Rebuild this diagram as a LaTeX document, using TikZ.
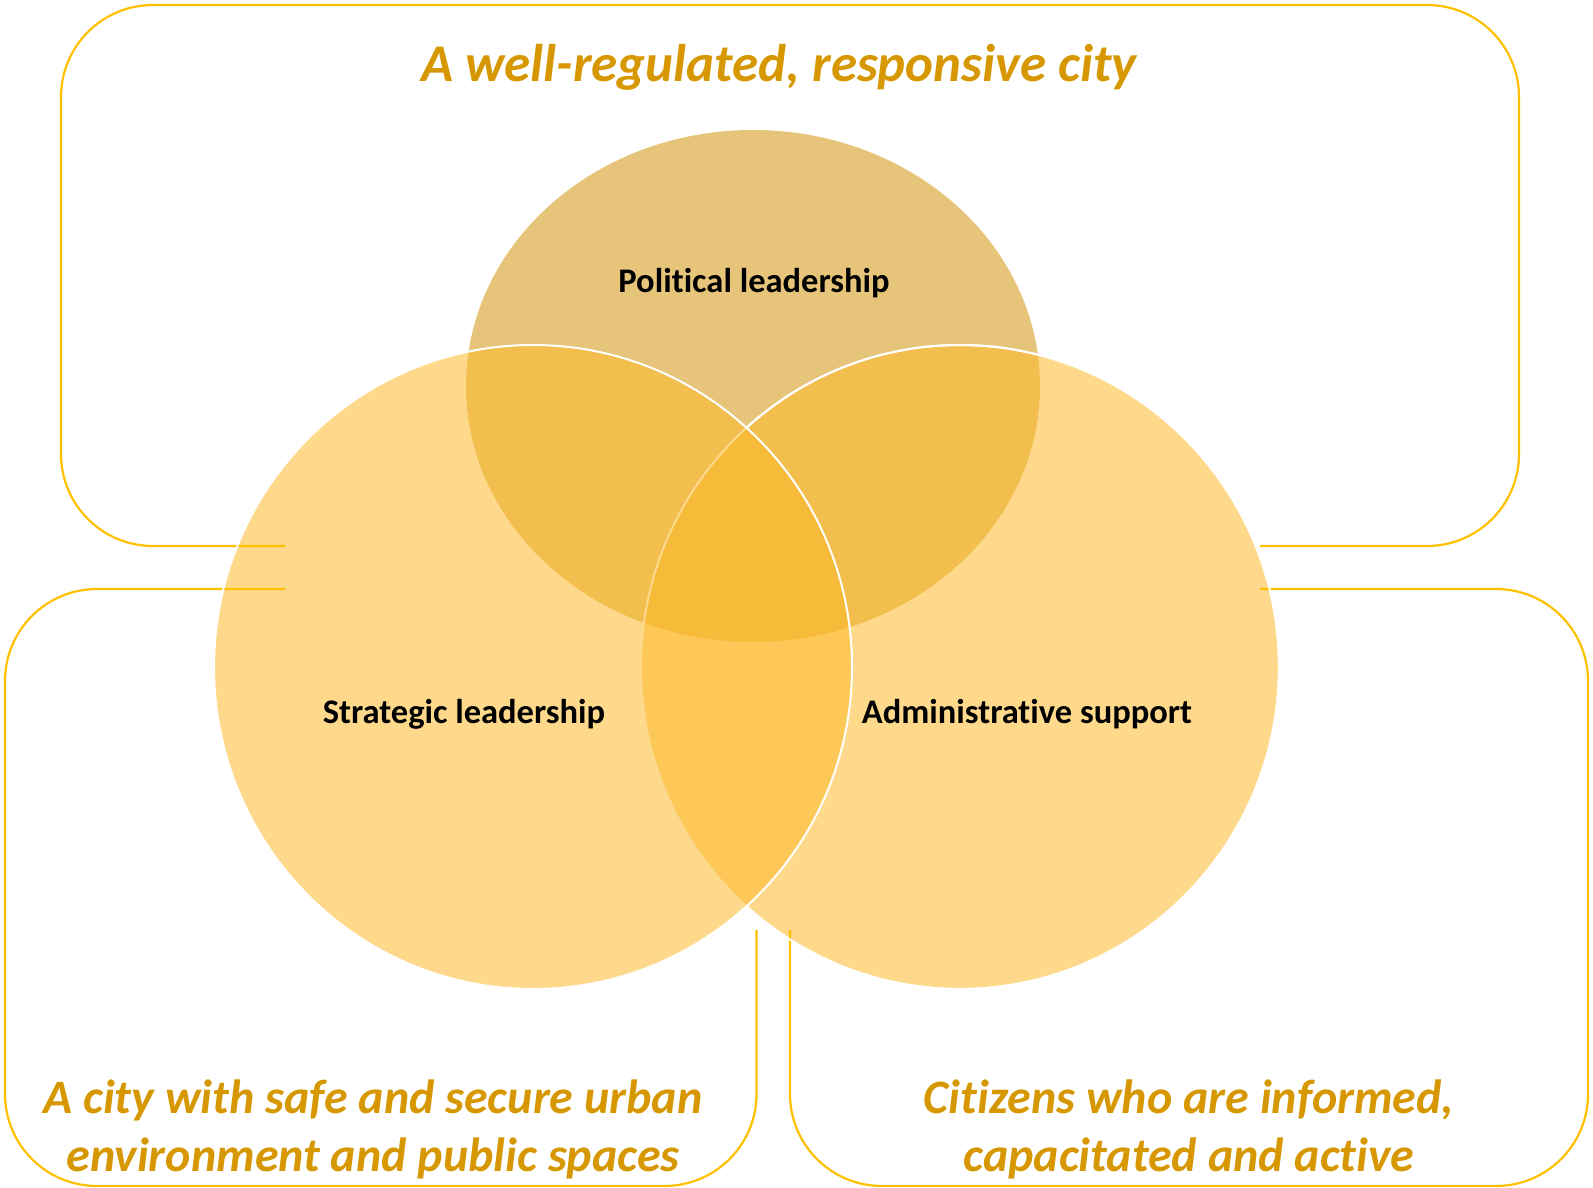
\documentclass[tikz,border=0pt]{standalone}
\usepackage{fontspec}
\setmainfont{Carlito}[Ligatures=NoCommon]
\definecolor{framegold}{HTML}{FFC000}
\definecolor{goaltext}{HTML}{D69700}
\definecolor{poltan}{HTML}{E6C479}
\definecolor{ringfill}{HTML}{FDB92A}
\begin{document}
\begin{tikzpicture}[x=1pt, y=-1pt,
		frame/.style={draw=framegold, line width=2.2pt, rounded corners=92pt},
		ring/.style={fill=ringfill, fill opacity=.54},
		rim/.style={draw=white, line width=2pt},
		goal/.style={text=goaltext, font=\fontsize{48}{58}\selectfont\bfseries\itshape, align=center},
		area/.style={font=\fontsize{34.5}{40}\selectfont\bfseries}]
	\useasboundingbox (0,0) rectangle (1593,1188);
	\coordinate (pol) at (753,386);
	\coordinate (strat) at (533,667);
	\coordinate (admin) at (960,667);
	% circles
	\fill [poltan] (pol) ellipse [x radius=287, y radius=256];
	\fill [ring] (admin) ellipse [x radius=319, y radius=322];
	\draw [rim] (admin) ellipse [x radius=319, y radius=322];
	\fill [ring] (strat) ellipse [x radius=319, y radius=322];
	% frames
	\draw [frame] (285,546) -- (61,546) -- (61,5) -- (1519,5) -- (1519,546) -- (1260,546);
	\draw [frame] (285,589) -- (5,589) -- (5,1186) -- (756.5,1186) -- (756.5,930);
	\draw [frame] (790,930) -- (790,1186) -- (1588,1186) -- (1588,589) -- (1260,589);
	\begin{scope}[even odd rule]
		\clip (0,0) rectangle (1593,1188) (strat) ellipse [x radius=319, y radius=322];
		\draw [rim] (admin) ellipse [x radius=319, y radius=322];
	\end{scope}
	\draw [rim] (strat) ellipse [x radius=319, y radius=322];
	% labels
	\node (title) [goal, font=\fontsize{53}{60}\selectfont\bfseries\itshape] at (779,67) {A well-regulated, responsive city};
	\node (political) [area] at (754,283) {Political leadership};
	\node (strategic) [area] at (464,714) {Strategic leadership};
	\node (admsupport) [area] at (1027,714) {Administrative support};
	\node (safecity) [goal] at (373,1129) {A city with safe and secure urban\\environment and public spaces};
	\node (citizens) [goal] at (1189,1129) {Citizens who are informed,\\capacitated and active};
\end{tikzpicture}
\end{document}
